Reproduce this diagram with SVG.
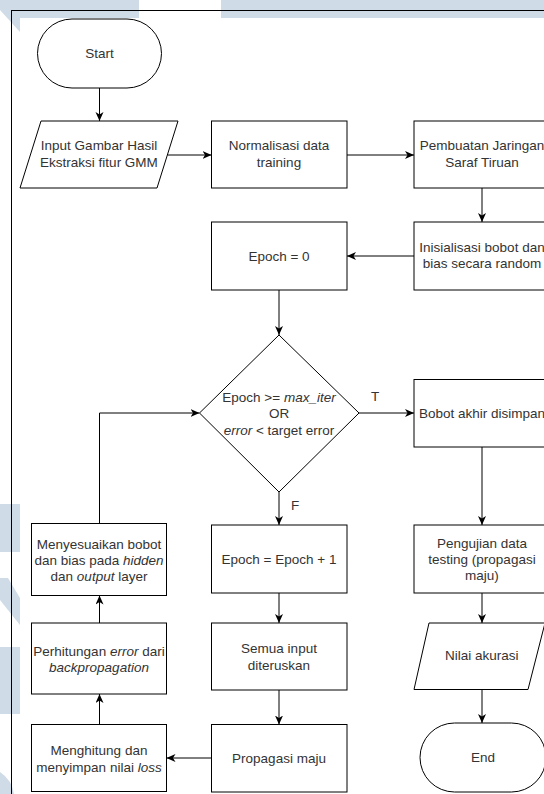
<svg xmlns="http://www.w3.org/2000/svg" width="544" height="794" viewBox="0 0 544 794">
<defs>
<style>
.wm{fill:#cfdbe6;stroke:none}
.n{fill:#fff;stroke:#000;stroke-width:1}
.t{font-family:"Liberation Sans",Arial,sans-serif;font-size:13.5px;fill:#333;text-anchor:middle}
.i{font-style:italic}
.c{fill:none;stroke:#000;stroke-width:1}
</style>
<marker id="ah" markerUnits="userSpaceOnUse" markerWidth="10" markerHeight="10" refX="9" refY="4" orient="auto">
<path d="M0,0 L9,4 L0,8 L2.5,4 Z" fill="#000"/>
</marker>
</defs>
<rect width="544" height="794" fill="#fff"/>
<g id="watermark">
<polygon class="wm" points="0,0 139,0 139,18 20,18 20,32 0,10"/>
<rect class="wm" x="221" y="0" width="323" height="18"/>
<rect class="wm" x="0" y="504" width="20" height="48"/>
<polygon class="wm" points="0,578 8,578 20,598 20,625 0,600"/>
<rect class="wm" x="0" y="647" width="20" height="67"/>
<path class="wm" d="M0,772 Q12,780 14,794 L0,794 Z"/>
</g>
<rect id="frame" x="11.5" y="10.5" width="600" height="800" fill="none" stroke="#000" stroke-width="1"/>
<g id="connectors">
<path class="c" d="M99.5,88 V121" marker-end="url(#ah)"/>
<path class="c" d="M167.5,155 H211.5" marker-end="url(#ah)"/>
<path class="c" d="M347,155 H414" marker-end="url(#ah)"/>
<path class="c" d="M482,188 V222" marker-end="url(#ah)"/>
<path class="c" d="M414,256 H347" marker-end="url(#ah)"/>
<path class="c" d="M279,290 V335" marker-end="url(#ah)"/>
<path class="c" d="M359,413 H414" marker-end="url(#ah)"/>
<path class="c" d="M279,492 V525" marker-end="url(#ah)"/>
<path class="c" d="M279,593 V623" marker-end="url(#ah)"/>
<path class="c" d="M279,690 V724.5" marker-end="url(#ah)"/>
<path class="c" d="M211.5,758 H166.5" marker-end="url(#ah)"/>
<path class="c" d="M99.5,724.5 V694" marker-end="url(#ah)"/>
<path class="c" d="M99.5,623 V595.5" marker-end="url(#ah)"/>
<path class="c" d="M99.5,523.5 V413 H199.5" marker-end="url(#ah)"/>
<path class="c" d="M482,447 V525" marker-end="url(#ah)"/>
<path class="c" d="M482,593 V623" marker-end="url(#ah)"/>
<path class="c" d="M482,689.5 V723" marker-end="url(#ah)"/>
<text class="t" x="375" y="401">T</text>
<text class="t" x="295" y="510">F</text>
</g>
<g id="start">
<rect class="n" x="37.5" y="19" width="124" height="69" rx="34.5" ry="34.5"/>
<text class="t" x="99.5" y="58">Start</text>
</g>
<g id="input">
<polygon class="n" points="41,121 178,121 157,188 20,188"/>
<text class="t" x="99" y="150">Input Gambar Hasil</text>
<text class="t" x="99" y="166.5">Ekstraksi fitur GMM</text>
</g>
<g id="normalisasi">
<rect class="n" x="211.5" y="121" width="135.5" height="67"/>
<text class="t" x="279" y="150">Normalisasi data</text>
<text class="t" x="279" y="166.5">training</text>
</g>
<g id="pembuatan">
<rect class="n" x="414" y="121" width="136" height="67"/>
<text class="t" x="482" y="150">Pembuatan Jaringan</text>
<text class="t" x="482" y="166.5">Saraf Tiruan</text>
</g>
<g id="inisialisasi">
<rect class="n" x="414" y="222" width="136" height="68"/>
<text class="t" x="482" y="251.5">Inisialisasi bobot dan</text>
<text class="t" x="482" y="268">bias secara random</text>
</g>
<g id="epoch0">
<rect class="n" x="211.5" y="222" width="135.5" height="68"/>
<text class="t" x="279" y="260.5">Epoch = 0</text>
</g>
<g id="decision">
<polygon class="n" points="279,335 359,413 279,492 199.5,413"/>
<text class="t" x="279" y="401.5">Epoch &gt;= <tspan class="i">max_iter</tspan></text>
<text class="t" x="279" y="418">OR</text>
<text class="t" x="279" y="434.5"><tspan class="i">error</tspan> &lt; target error</text>
</g>
<g id="bobot">
<rect class="n" x="414" y="379.5" width="136" height="67.5"/>
<text class="t" x="482" y="418">Bobot akhir disimpan</text>
</g>
<g id="menyesuaikan">
<rect class="n" x="31.5" y="523.5" width="135" height="72"/>
<text class="t" x="99" y="549">Menyesuaikan bobot</text>
<text class="t" x="99" y="565">dan bias pada <tspan class="i">hidden</tspan></text>
<text class="t" x="99" y="580.5">dan <tspan class="i">output</tspan> layer</text>
</g>
<g id="epochplus">
<rect class="n" x="211.5" y="525" width="135.5" height="68"/>
<text class="t" x="279" y="563.5">Epoch = Epoch + 1</text>
</g>
<g id="pengujian">
<rect class="n" x="414" y="525" width="136" height="68"/>
<text class="t" x="482" y="547.5">Pengujian data</text>
<text class="t" x="482" y="564">testing (propagasi</text>
<text class="t" x="482" y="580">maju)</text>
</g>
<g id="perhitungan">
<rect class="n" x="31.5" y="623" width="135" height="71"/>
<text class="t" x="99" y="655.5">Perhitungan <tspan class="i">error</tspan> dari</text>
<text class="t i" x="99" y="672">backpropagation</text>
</g>
<g id="semua">
<rect class="n" x="211.5" y="623" width="135.5" height="67"/>
<text class="t" x="279" y="653">Semua input</text>
<text class="t" x="279" y="669.5">diteruskan</text>
</g>
<g id="nilai">
<polygon class="n" points="429,623 545,623 528,689.5 414,689.5"/>
<text class="t" x="481.7" y="660">Nilai akurasi</text>
</g>
<g id="menghitung">
<rect class="n" x="31.5" y="724.5" width="135" height="67"/>
<text class="t" x="99" y="755">Menghitung dan</text>
<text class="t" x="99" y="771.5">menyimpan nilai <tspan class="i">loss</tspan></text>
</g>
<g id="propagasi">
<rect class="n" x="211.5" y="724.5" width="135.5" height="67.5"/>
<text class="t" x="279" y="762.5">Propagasi maju</text>
</g>
<g id="end">
<rect class="n" x="420" y="723" width="126" height="69" rx="34.5" ry="34.5"/>
<text class="t" x="483" y="761.5">End</text>
</g>
</svg>
